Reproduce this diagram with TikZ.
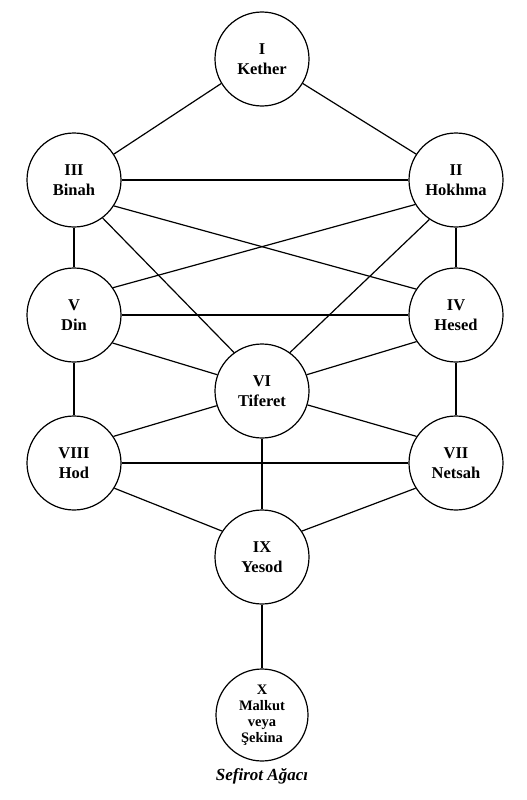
\documentclass[tikz,border=0pt]{standalone}
\usepackage{fontspec}
\setmainfont{Liberation Serif}
\begin{document}
\begin{tikzpicture}[x=1pt,y=-1pt,
  sef/.style={circle,draw,line width=1.2pt,minimum size=94pt,inner sep=0pt,align=center,font=\bfseries\fontsize{16.5}{19.5}\selectfont},
  link/.style={line width=1.2pt}]
\useasboundingbox (0,0) rectangle (527,800);
\node[sef] (k) at (262,59) {I\\Kether};
\node[sef] (b) at (74,180) {III\\Binah};
\node[sef] (h) at (456,180) {II\\Hokhma};
\node[sef] (d) at (74,315) {V\\Din};
\node[sef] (he) at (456,315) {IV\\Hesed};
\node[sef] (t) at (262,391) {VI\\Tiferet};
\node[sef] (ho) at (74,463) {VIII\\Hod};
\node[sef] (n) at (456,463) {VII\\Netsah};
\node[sef] (y) at (262,557) {IX\\Yesod};
\node[sef,minimum size=92pt,font=\bfseries\fontsize{14.5}{16}\selectfont] (m) at (262,715) {X\\Malkut\\veya\\Şekina};
\node[font=\bfseries\itshape\fontsize{17}{19}\selectfont] (cap) at (262,776) {Sefirot Ağacı};
\draw[link] (k.211) -- (b.33);
\draw[link] (k.329) -- (h.147);
\draw[link] (b.east) -- (h.west);
\draw[link] (b.-33) -- (he.147);
\draw[link] (h.211) -- (d.35);
\draw[link] (b.-53) -- (t.126);
\draw[link] (h.236) -- (t.54);
\draw[link] (b.south) -- (d.north);
\draw[link] (h.south) -- (he.north);
\draw[link] (d.east) -- (he.west);
\draw[link] (d.-36) -- (t.160);
\draw[link] (he.214) -- (t.20);
\draw[link] (d.south) -- (ho.north);
\draw[link] (he.south) -- (n.north);
\draw[link] (t.198) -- (ho.34);
\draw[link] (t.-17) -- (n.146);
\draw[link] (ho.east) -- (n.west);
\draw[link] (t.south) -- (y.north);
\draw[link] (ho.-32) -- (y.147);
\draw[link] (n.212) -- (y.33);
\draw[link] (y.south) -- (m.north);
\end{tikzpicture}
\end{document}
